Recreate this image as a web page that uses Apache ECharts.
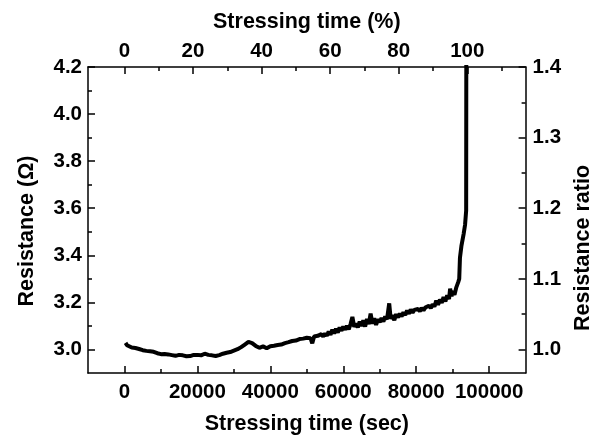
<!DOCTYPE html>
<html>
<head>
<meta charset="utf-8">
<script src="https://cdn.jsdelivr.net/npm/echarts@6/dist/echarts.min.js"></script>
<style>
    html, body { margin: 0; padding: 0; background: #fff; }
    #chart { width: 602px; height: 440px; }
</style>
</head>
<body>
<div id="chart"></div>
<script>
var tSec = [300, 700, 1200, 2000, 2500, 3000, 3500, 4000, 5000, 5500,
    6000, 7000, 7500, 8000, 9000, 9500, 10000, 11000, 11500, 12000,
    13000, 13500, 14000, 15000, 15500, 16000, 17000, 17500, 18000, 19000,
    19500, 20000, 21000, 21500, 22000, 23000, 23500, 24000, 25000, 25500,
    26000, 27000, 27500, 28000, 29000, 29500, 30000, 31000, 31500, 32000,
    33000, 34000, 35000, 36000, 37000, 37500, 38000, 39000, 39500,
    40000, 40500, 41000, 41500, 42000, 42500, 43000, 43500, 44000, 44500,
    45000, 45500, 46000, 46500, 47000, 47500, 48000, 48500, 49000, 49500,
    50000, 50500, 51000, 51500, 52000, 52500, 53000, 53500, 54000, 54500,
    55000, 55500, 56000, 56500, 57000, 57500, 58000, 58500, 59000, 59500,
    60000, 60500, 61000, 61500, 62000, 62500, 63000, 63500, 64000, 64500,
    65000, 65500, 66000, 66500, 67000, 67500, 68000, 68500, 69000, 69500,
    70000, 70500, 71000, 71500, 72000, 72600, 73000, 73500, 74000, 74500,
    75000, 75500, 76000, 76500, 77000, 77500, 78000, 78500, 79000, 79500,
    80000, 80500, 81000, 81500, 82000, 82500, 83000, 83500, 84000, 84500,
    85000, 85500, 86000, 86500, 87000, 87500, 88000, 88500, 89000, 89300,
    89700, 90000, 90500, 91000, 91500, 91800, 92000, 92400, 93000, 93400,
    93700, 93750];
var resist = [3.028, 3.018, 3.010, 3.008, 3.003, 3.006, 3.000, 3.002, 2.997, 2.999,
    2.994, 2.992, 2.988, 2.990, 2.984, 2.986, 2.980, 2.981, 2.977, 2.979,
    2.976, 2.979, 2.973, 2.977, 2.973, 2.975, 2.971, 2.976, 2.972, 2.977,
    2.973, 2.977, 2.975, 2.980, 2.982, 2.977, 2.979, 2.975, 2.972, 2.976,
    2.976, 2.982, 2.980, 2.986, 2.989, 2.993, 2.995, 3.001, 3.004, 3.010,
    3.021, 3.032, 3.027, 3.015, 3.007, 3.011, 3.013, 3.005, 3.010,
    3.014, 3.008, 3.016, 3.011, 3.019, 3.013, 3.021, 3.016, 3.027, 3.020,
    3.031, 3.025, 3.036, 3.028, 3.038, 3.033, 3.044, 3.036, 3.046, 3.040,
    3.050, 3.043, 3.048, 3.026, 3.055, 3.047, 3.058, 3.052, 3.065, 3.055,
    3.068, 3.058, 3.076, 3.062, 3.084, 3.068, 3.088, 3.072, 3.094, 3.079,
    3.098, 3.084, 3.100, 3.086, 3.108, 3.138, 3.096, 3.110, 3.094, 3.118,
    3.100, 3.124, 3.097, 3.130, 3.108, 3.152, 3.110, 3.132, 3.104, 3.128,
    3.116, 3.134, 3.118, 3.140, 3.128, 3.196, 3.130, 3.146, 3.124, 3.150,
    3.136, 3.152, 3.140, 3.158, 3.146, 3.166, 3.152, 3.170, 3.156, 3.168,
    3.160, 3.172, 3.162, 3.176, 3.166, 3.178, 3.170, 3.186, 3.176, 3.192,
    3.182, 3.208, 3.190, 3.212, 3.198, 3.222, 3.204, 3.230, 3.214, 3.258,
    3.226, 3.248, 3.232, 3.264, 3.285, 3.300, 3.390, 3.440, 3.490, 3.530,
    3.590, 4.400];

// axis ranges and tick positions
var secMin = -10000, secMax = 110000;
var secMajor = [0, 20000, 40000, 60000, 80000, 100000];
var secMinor = [10000, 30000, 50000, 70000, 90000];
var failSec = 94000; // 100 % of stressing time
var pctMajor = [0, 20, 40, 60, 80, 100];
var pctMinor = [10, 30, 50, 70, 90, 110];
var ohmMin = 2.9, ohmMax = 4.2;
var ohmMajor = [3.0, 3.2, 3.4, 3.6, 3.8, 4.0, 4.2];
var ohmMinor = [3.1, 3.3, 3.5, 3.7, 3.9, 4.1];
var ohmRef = 3.0; // ratio = R / R0
var ratioMajor = [1.0, 1.1, 1.2, 1.3, 1.4];
var ratioMinor = [1.05, 1.15, 1.25, 1.35];

var FONT = 'Liberation Sans';
var nameStyle = { fontFamily: FONT, fontWeight: 'bold', fontSize: 21.5, color: '#000' };

function axisBase(min, max, position, ticks, len, showLine) {
    return {
        type: 'value',
        position: position,
        min: min,
        max: max,
        splitLine: { show: false },
        axisLine: { show: showLine, onZero: false, lineStyle: { color: '#000', width: 1.5 } },
        axisTick: { inside: true, length: len, customValues: ticks, lineStyle: { color: '#000', width: 1.5 } },
        axisLabel: { show: false }
    };
}

// major axis: line, long ticks, labels, name
function majorAxis(min, max, position, major, fmt, margin, name, gap) {
    var ax = axisBase(min, max, position, major, 7, true);
    ax.axisLabel = {
        show: true, customValues: major, margin: margin,
        fontFamily: FONT, fontWeight: 'bold', fontSize: 20.5, color: '#000',
        formatter: fmt
    };
    ax.name = name;
    ax.nameLocation = 'middle';
    ax.nameGap = gap;
    ax.nameTextStyle = nameStyle;
    return ax;
}

function minorAxis(min, max, position, minor) {
    return axisBase(min, max, position, minor, 4, false);
}

var data = [];
for (var i = 0; i < tSec.length; i++) {
    data.push([tSec[i], resist[i]]);
}

var leftAxis = majorAxis(ohmMin, ohmMax, 'left', ohmMajor,
    function (v) { return v.toFixed(1); }, 6, 'Resistance (\u03a9)', 50);
leftAxis.nameRotate = 90;
leftAxis.nameTextStyle = Object.assign({}, nameStyle, { padding: [0, 22, 0, 0] });

var rightAxis = majorAxis(ohmMin / ohmRef, ohmMax / ohmRef, 'right', ratioMajor,
    function (v) { return v.toFixed(1); }, 7, 'Resistance ratio', 46);
rightAxis.nameRotate = 90;
rightAxis.nameTextStyle = Object.assign({}, nameStyle, { padding: [0, 56, 0, 0] });

var myChart = echarts.init(document.getElementById('chart'));

var option = {
    animation: false,
    grid: { left: 88, right: 74, top: 67, bottom: 62, containLabel: false },
    xAxis: [
        majorAxis(secMin, secMax, 'bottom', secMajor,
            function (v) { return String(v); }, 9, 'Stressing time (sec)', 40),
        minorAxis(secMin, secMax, 'bottom', secMinor),
        majorAxis(secMin / failSec * 100, secMax / failSec * 100, 'top', pctMajor,
            function (v) { return String(v); }, 5, 'Stressing time (%)', 34),
        minorAxis(secMin / failSec * 100, secMax / failSec * 100, 'top', pctMinor)
    ],
    yAxis: [
        leftAxis,
        minorAxis(ohmMin, ohmMax, 'left', ohmMinor),
        rightAxis,
        minorAxis(ohmMin / ohmRef, ohmMax / ohmRef, 'right', ratioMinor)
    ],
    series: [{
        type: 'line',
        xAxisIndex: 0,
        yAxisIndex: 0,
        data: data,
        showSymbol: false,
        clip: true,
        lineStyle: { color: '#000', width: 4 }
    }]
};

myChart.setOption(option);
</script>
</body>
</html>
